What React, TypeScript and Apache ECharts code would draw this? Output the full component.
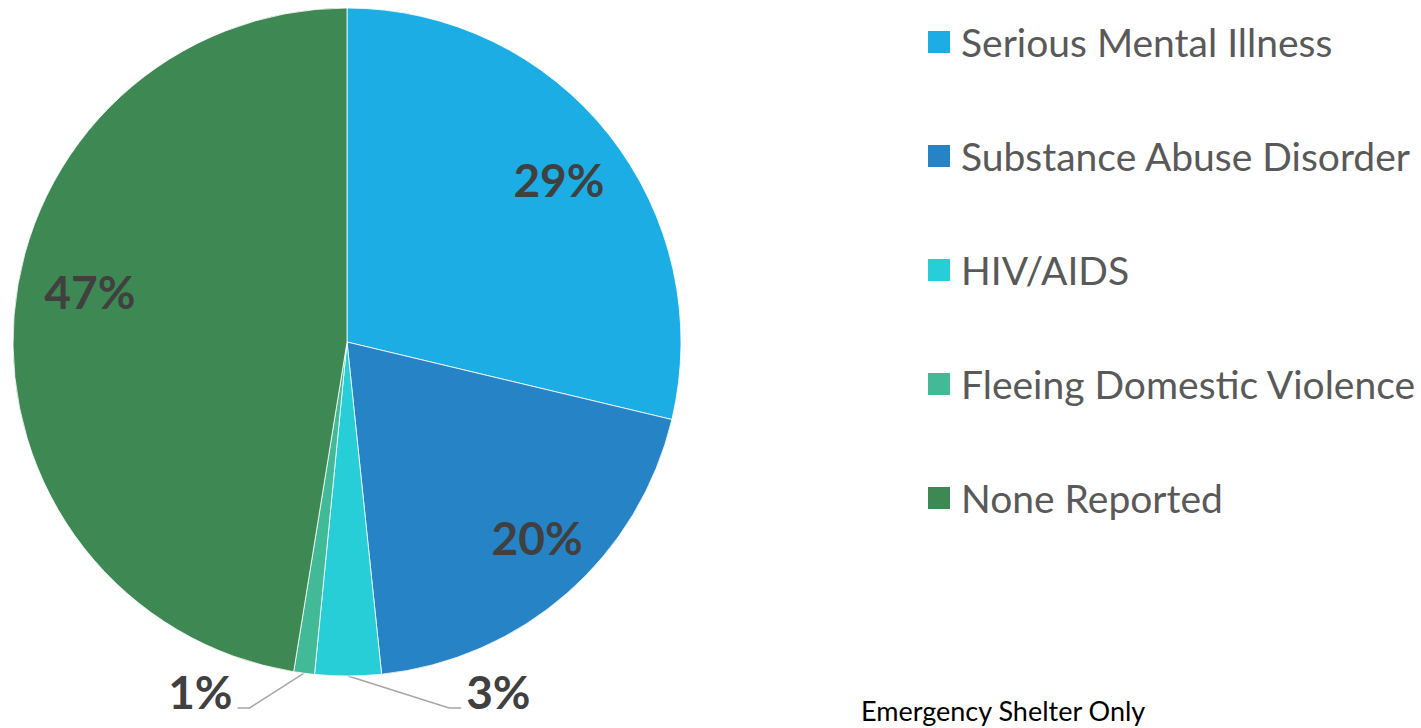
import React, { useEffect, useRef } from "react";
import * as echarts from "echarts";

const categories = [
  "Serious Mental Illness",
  "Substance Abuse Disorder",
  "HIV/AIDS",
  "Fleeing Domestic Violence",
  "None Reported",
];
const values = [28.7, 19.6, 3.2, 1.0, 47.4];
const colors = ["#1CADE4", "#2683C6", "#27CED7", "#42BA97", "#3E8853"];
const insideLabel = [true, true, false, false, true];
const lineLen = [0, 0, 32, 35, 0];
const lineLen2 = [0, 0, 113, 62, 0];
const insideNudge = [
  [0, 5],
  [12, -7],
  [0, 0],
  [0, 0],
  [12, -29],
];
const footnote = "Emergency Shelter Only";

const FONT = "Lato";

export default function App() {
  const ref = useRef<HTMLDivElement>(null);
  useEffect(() => {
    if (!ref.current) return;
    const chart = echarts.init(ref.current, undefined, { renderer: "svg" });
    const fmt = (p: any) => `${Math.round(p.percent)}%`;
    const mainData = categories.map((name, i) => ({
      name,
      value: values[i],
      itemStyle: { color: colors[i] },
      label: { show: !insideLabel[i] },
      labelLine: { show: !insideLabel[i], length: lineLen[i], length2: lineLen2[i] },
    }));
    const overlayData = categories.map((name, i) => ({
      name,
      value: values[i],
      label: { show: insideLabel[i] },
    }));
    chart.setOption({
      animation: false,
      color: colors,
      title: {
        text: footnote,
        left: 861,
        top: 697,
        textStyle: { fontFamily: FONT, fontSize: 27, fontWeight: "normal", color: "#000" },
        padding: 0,
      },
      legend: {
        orient: "vertical",
        left: 926,
        top: 20,
        padding: 0,
        itemWidth: 24,
        itemHeight: 24,
        itemGap: 70,
        icon: "rect",
        data: categories,
        textStyle: { fontFamily: FONT, fontSize: 39, color: "#595959", lineHeight: 44, padding: [0, 0, 0, 5] },
        selectedMode: false,
      },
      series: [
        {
          type: "pie",
          center: [347, 342],
          radius: [0, 334],
          startAngle: 90,
          clockwise: true,
          avoidLabelOverlap: false,
          silent: true,
          itemStyle: { borderColor: "#fff", borderWidth: 0.8 },
          label: {
            position: "outside",
            formatter: fmt,
            fontFamily: FONT,
            fontSize: 46,
            fontWeight: "bold",
            color: "#404040",
            distanceToLabelLine: 5,
          },
          labelLine: { lineStyle: { color: "#A6A6A6", width: 1.5 } },
          labelLayout: (params: any) => {
            const pts = params.labelLinePoints;
            if (!pts || pts.length < 3) return { dy: -16 };
            const p0 = pts[0];
            const p1 = pts[1];
            const p2 = pts[2];
            const dir = p2[0] > p1[0] ? 1 : -1;
            return { dy: -16, labelLinePoints: [p0, [p2[0] - dir * 12, p2[1]], p2] };
          },
          data: mainData,
        },
        {
          type: "pie",
          center: [347, 342],
          radius: [200, 334],
          startAngle: 90,
          clockwise: true,
          avoidLabelOverlap: false,
          silent: true,
          itemStyle: { color: "transparent", borderWidth: 0 },
          label: {
            position: "inside",
            formatter: fmt,
            fontFamily: FONT,
            fontSize: 46,
            fontWeight: "bold",
            color: "#404040",
          },
          labelLayout: (params: any) => {
            const n = insideNudge[params.dataIndex] || [0, 0];
            return { dx: n[0], dy: n[1] };
          },
          labelLine: { show: false },
          data: overlayData,
        },
      ],
    });
    return () => chart.dispose();
  }, []);
  return (
    <div
      ref={ref}
      style={{ position: "fixed", left: 0, top: 0, width: 1421, height: 728, background: "#fff" }}
    />
  );
}
